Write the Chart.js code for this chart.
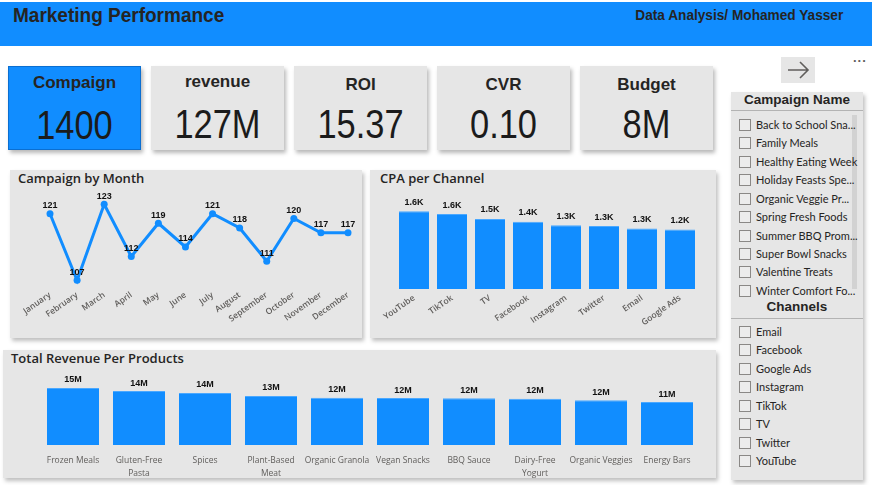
<!DOCTYPE html>
<html>
<head>
<meta charset="utf-8">
<title>Marketing Performance</title>
<script src="https://cdn.jsdelivr.net/npm/chart.js@4.4.1/dist/chart.umd.min.js"></script>
<style>
  body { margin: 0; width: 872px; height: 485px; background: #fff; position: relative; overflow: hidden; font-family: 'Open Sans', sans-serif; color: #252423; }
  .abs { position: absolute; }
  .header { left: 0; top: 2px; width: 872px; height: 44px; background: #118DFF; }
  .title { left: 13px; top: 4px; font: bold 21px 'Liberation Sans', sans-serif; line-height: 22px; color: #252423; transform: scaleX(0.905); transform-origin: left center; white-space: nowrap; }
  .author { right: 29px; top: 7px; font: bold 14px 'Liberation Sans', sans-serif; line-height: 16px; color: #252423; transform: scaleX(0.975); transform-origin: right center; white-space: nowrap; }
  .card { top: 66px; width: 133px; height: 84px; background: #E6E6E6; box-shadow: 2px 3px 4px rgba(0,0,0,0.28); text-align: center; }
  .card.active { background: #118DFF; border: 1px solid #0b6fd1; box-sizing: border-box; }
  .card .t { position: absolute; left: 0; right: 0; font: bold 17px 'Liberation Sans', sans-serif; line-height: 20px; color: #252423; }
  .card .v { position: absolute; left: 0; right: 0; top: 38px; font: 40px 'Liberation Sans', sans-serif; line-height: 40px; color: #1b1b1b; transform: scaleX(0.86); }
  .panel { background: #E6E6E6; box-shadow: 2px 3px 4px rgba(0,0,0,0.25); }
  .ptitle { font: 600 13px 'Open Sans', sans-serif; line-height: 16px; color: #252423; }
  .slicer { left: 731px; top: 92px; width: 132px; height: 388px; background: #E6E6E6; box-shadow: 2px 3px 4px rgba(0,0,0,0.25); }
  .shead { position: absolute; left: 0; width: 132px; text-align: center; font: bold 13.5px 'Liberation Sans', sans-serif; line-height: 16px; color: #252423; }
  .sline { position: absolute; left: 0; width: 132px; height: 1px; background: #b3b3b3; }
  .item { position: absolute; left: 8px; height: 18px; line-height: 18px; font: 11px Lato, sans-serif; color: #252423; white-space: nowrap; }
  .item i { display: inline-block; width: 10px; height: 10px; border: 1px solid #8a8886; vertical-align: -2px; margin-right: 5px; background: #ececec; }
  .scroll { position: absolute; left: 121px; top: 23px; width: 5px; height: 174px; background: #d2d2d2; }
  .arrow { left: 781px; top: 57px; width: 34px; height: 26px; background: #E6E6E6; }
  .dots { left: 853px; top: 50px; font: bold 13px 'Liberation Sans', sans-serif; color: #605E5C; letter-spacing: 1px; }
  canvas { position: absolute; }
</style>
</head>
<body>
<div class="abs header"></div>
<div class="abs title">Marketing Performance</div>
<div class="abs author">Data Analysis/ Mohamed Yasser</div>

<div id="cards"></div>

<div class="abs panel" style="left:10px;top:170px;width:352px;height:168px;"></div>
<div class="abs ptitle" style="left:18px;top:170px;">Campaign by Month</div>
<div class="abs panel" style="left:370px;top:170px;width:346px;height:168px;"></div>
<div class="abs ptitle" style="left:380px;top:170px;">CPA per Channel</div>
<div class="abs panel" style="left:3px;top:350px;width:713px;height:128px;"></div>
<div class="abs ptitle" style="left:11px;top:350px;">Total Revenue Per Products</div>

<canvas id="monthChart" width="352" height="150" style="left:10px;top:186px;"></canvas>
<canvas id="cpaChart" width="346" height="150" style="left:370px;top:186px;"></canvas>
<canvas id="revenueChart" width="713" height="108" style="left:3px;top:372px;"></canvas>

<div class="abs arrow">
  <svg width="34" height="26" viewBox="0 0 34 26"><path d="M7 13 H27 M19 5 L27 13 L19 21" stroke="#605E5C" stroke-width="1.6" fill="none"/></svg>
</div>
<div class="abs dots">...</div>

<div class="abs slicer" id="slicer">
  <div class="scroll"></div>
  <div class="shead" style="top:0px;">Campaign Name</div>
  <div class="sline" style="top:18px;"></div>
  <div class="shead" style="top:207px;">Channels</div>
  <div class="sline" style="top:226px;"></div>
</div>

<script>
// KPI cards
const kpiTitles = ['Compaign', 'revenue', 'ROI', 'CVR', 'Budget'];
const kpiValues = ['1400', '127M', '15.37', '0.10', '8M'];

// Campaign count by month
const months = ['January', 'February', 'March', 'April', 'May', 'June', 'July', 'August', 'September', 'October', 'November', 'December'];
const campaignsPerMonth = [121, 107, 123, 112, 119, 114, 121, 118, 111, 120, 117, 117];

// CPA by channel
const channels = ['YouTube', 'TikTok', 'TV', 'Facebook', 'Instagram', 'Twitter', 'Email', 'Google Ads'];
const cpaValues = [1620, 1560, 1460, 1400, 1330, 1310, 1260, 1240];

// Revenue per product (millions)
const products = ['Frozen Meals', 'Gluten-Free Pasta', 'Spices', 'Plant-Based Meat', 'Organic Granola', 'Vegan Snacks', 'BBQ Sauce', 'Dairy-Free Yogurt', 'Organic Veggies', 'Energy Bars'];
const revenueValues = [15.0, 14.2, 13.7, 12.9, 12.45, 12.35, 12.3, 12.2, 11.75, 11.3];

// Slicer lists
const campaignNames = ['Back to School Sna...', 'Family Meals', 'Healthy Eating Week', 'Holiday Feasts Spe...', 'Organic Veggie Pr...', 'Spring Fresh Foods', 'Summer BBQ Prom...', 'Super Bowl Snacks', 'Valentine Treats', 'Winter Comfort Fo...'];
const channelNames = ['Email', 'Facebook', 'Google Ads', 'Instagram', 'TikTok', 'TV', 'Twitter', 'YouTube'];

const BLUE = '#118DFF';
const TICK_GREY = '#605E5C';

// build cards
const cardLefts = [8, 151, 294, 437, 580];
const cardTitleTops = [6, 6, 9, 9, 9];
const cardsEl = document.getElementById('cards');
kpiTitles.forEach((t, i) => {
  const c = document.createElement('div');
  c.className = 'abs card' + (i === 0 ? ' active' : '');
  c.style.left = cardLefts[i] + 'px';
  c.innerHTML = `<div class="t" style="top:${cardTitleTops[i]}px">${t}</div><div class="v">${kpiValues[i]}</div>`;
  cardsEl.appendChild(c);
});

// build slicer lists
const slicer = document.getElementById('slicer');
function addItems(list, firstTop) {
  list.forEach((name, i) => {
    const d = document.createElement('div');
    d.className = 'item';
    d.style.top = (firstTop + i * 18.43) + 'px';
    d.innerHTML = `<i></i>${name}`;
    slicer.appendChild(d);
  });
}
addItems(campaignNames, 26);
addItems(channelNames, 233);

// draws value labels above each point / bar
function valueLabels(format, offset) {
  return {
    id: 'valueLabels',
    afterDatasetsDraw(chart) {
      const ctx = chart.ctx;
      const meta = chart.getDatasetMeta(0);
      const data = chart.data.datasets[0].data;
      ctx.save();
      ctx.font = 'bold 9px "Liberation Sans", sans-serif';
      ctx.fillStyle = '#111';
      ctx.textAlign = 'center';
      ctx.textBaseline = 'middle';
      meta.data.forEach((el, i) => {
        ctx.fillText(format(data[i]), el.x, el.y - offset);
      });
      ctx.restore();
    }
  };
}

const tickFont = { family: 'Open Sans', size: 8.5, weight: '600' };

function fixedHeight(h) {
  return scale => { scale.height = h; };
}

// 1. Campaign by Month line chart
new Chart(document.getElementById('monthChart'), {
  type: 'line',
  data: {
    labels: months,
    datasets: [{
      data: campaignsPerMonth,
      borderColor: BLUE,
      backgroundColor: BLUE,
      borderWidth: 3,
      pointRadius: 3.5,
      pointBackgroundColor: BLUE,
      pointBorderWidth: 0,
      tension: 0
    }]
  },
  options: {
    responsive: false,
    animation: false,
    layout: { padding: { left: 40, right: 14, top: 4, bottom: 0 } },
    plugins: { legend: { display: false }, tooltip: { enabled: false } },
    scales: {
      x: {
        offset: false,
        grid: { display: false, drawTicks: false },
        border: { display: false },
        ticks: { color: TICK_GREY, font: tickFont, minRotation: 35, maxRotation: 35, padding: 5, autoSkip: false },
        afterFit: fixedHeight(51)
      },
      y: { display: false, min: 106, max: 126 }
    }
  },
  plugins: [valueLabels(v => String(v), 8)]
});

// 2. CPA per Channel bar chart
new Chart(document.getElementById('cpaChart'), {
  type: 'bar',
  data: {
    labels: channels,
    datasets: [{
      data: cpaValues,
      backgroundColor: BLUE,
      borderColor: '#4aa8ff',
      borderWidth: { top: 1, left: 0, right: 0, bottom: 0 },
      categoryPercentage: 1,
      barPercentage: 0.79
    }]
  },
  options: {
    responsive: false,
    animation: false,
    layout: { padding: { left: 25, right: 17, top: 7, bottom: 0 } },
    plugins: { legend: { display: false }, tooltip: { enabled: false } },
    scales: {
      x: {
        grid: { display: false, drawTicks: false },
        border: { display: false },
        ticks: { color: TICK_GREY, font: tickFont, minRotation: 35, maxRotation: 35, padding: 4, autoSkip: false },
        afterFit: fixedHeight(47)
      },
      y: { display: false, min: 0, max: 2000 }
    }
  },
  plugins: [valueLabels(v => (v / 1000).toFixed(1) + 'K', 9)]
});

// 3. Total Revenue per Product bar chart
function wrapLabel(label) {
  if (label.indexOf('-') === -1) return label;
  const cut = label.lastIndexOf(' ');
  return [label.slice(0, cut), label.slice(cut + 1)];
}

new Chart(document.getElementById('revenueChart'), {
  type: 'bar',
  data: {
    labels: products.map(wrapLabel),
    datasets: [{
      data: revenueValues,
      backgroundColor: BLUE,
      borderColor: '#4aa8ff',
      borderWidth: { top: 1, left: 0, right: 0, bottom: 0 },
      categoryPercentage: 1,
      barPercentage: 0.788
    }]
  },
  options: {
    responsive: false,
    animation: false,
    layout: { padding: { left: 37, right: 16, top: 8.4, bottom: 0 } },
    plugins: { legend: { display: false }, tooltip: { enabled: false } },
    scales: {
      x: {
        grid: { display: false, drawTicks: false },
        border: { display: false },
        ticks: { color: TICK_GREY, font: { family: 'Open Sans', size: 8.5, lineHeight: 1.5 }, maxRotation: 0, minRotation: 0, padding: 9, autoSkip: false },
        afterFit: fixedHeight(35)
      },
      y: { display: false, min: 0, max: 17 }
    }
  },
  plugins: [valueLabels(v => Math.round(v) + 'M', 8)]
});
</script>
</body>
</html>
